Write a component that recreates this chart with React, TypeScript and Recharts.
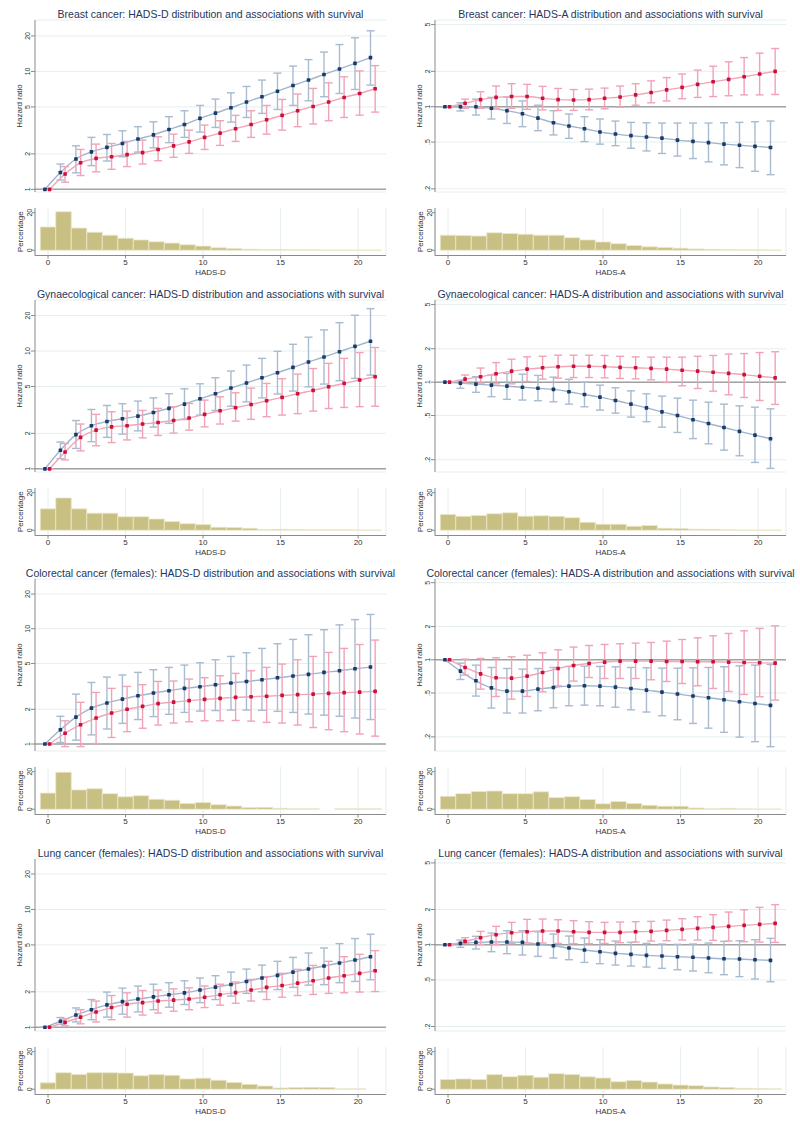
import React from 'react'
import {
  Bar,
  BarChart,
  CartesianGrid,
  ComposedChart,
  ErrorBar,
  Line,
  ReferenceLine,
  XAxis,
  YAxis,
} from 'recharts'

const FONT = '"Liberation Sans", Arial, Helvetica, sans-serif'

// HADS score categories
const scores = [0, 1, 2, 3, 4, 5, 6, 7, 8, 9, 10, 11, 12, 13, 14, 15, 16, 17, 18, 19, 20, 21]
const histTicks = [0, 5, 10, 15, 20]
const pctTicks = [0, 10, 20]
const hrTicksD = [1, 2, 5, 10, 20]
const hrTicksA = [0.2, 0.5, 1, 2, 5]

// Breast cancer, HADS-D
const breastDBlue = [1, 1.39, 1.81, 2.08, 2.27, 2.45, 2.67, 2.9, 3.22, 3.55, 4.0, 4.43, 4.92, 5.5, 6.1, 6.8, 7.6, 8.45, 9.43, 10.5, 11.7, 13.1]
const breastDBlueLo = [1, 1.2, 1.38, 1.59, 1.74, 1.89, 2.07, 2.25, 2.49, 2.76, 3.06, 3.35, 3.72, 4.07, 4.41, 4.76, 5.15, 5.64, 6.1, 6.5, 7.03, 7.66]
const breastDBlueHi = [1, 1.64, 2.34, 2.76, 2.92, 3.14, 3.4, 3.74, 4.13, 4.64, 5.15, 5.83, 6.59, 7.46, 8.45, 9.68, 11.1, 12.6, 14.6, 16.9, 19.3, 22.1]
const breastDRed = [1, 1.35, 1.68, 1.83, 1.89, 1.97, 2.05, 2.18, 2.34, 2.53, 2.76, 3.0, 3.27, 3.55, 3.89, 4.24, 4.64, 5.05, 5.5, 6.02, 6.5, 7.13]
const breastDRedLo = [1, 1.15, 1.31, 1.41, 1.48, 1.56, 1.64, 1.75, 1.87, 2.02, 2.18, 2.36, 2.55, 2.76, 2.94, 3.18, 3.4, 3.58, 3.82, 4.07, 4.26, 4.52]
const breastDRedHi = [1, 1.56, 2.18, 2.42, 2.45, 2.55, 2.62, 2.79, 2.94, 3.18, 3.51, 3.82, 4.24, 4.64, 5.15, 5.79, 6.43, 7.18, 8.0, 9.0, 10.1, 11.2]
const breastDPct = [12.4, 20.5, 11.8, 9.6, 8.0, 6.4, 5.5, 4.5, 3.8, 2.9, 2.2, 1.3, 0.9, 0.55, 0.4, 0.35, 0.25, 0.2, 0.15, 0.15, 0.1, 0.1]

// Breast cancer, HADS-A
const breastABlue = [1, 1.0, 1.0, 0.97, 0.925, 0.87, 0.8, 0.73, 0.685, 0.65, 0.61, 0.585, 0.567, 0.553, 0.54, 0.52, 0.507, 0.495, 0.48, 0.47, 0.46, 0.45]
const breastABlueLo = [1, 0.92, 0.85, 0.786, 0.72, 0.676, 0.625, 0.575, 0.538, 0.505, 0.48, 0.466, 0.443, 0.42, 0.4, 0.38, 0.362, 0.339, 0.32, 0.303, 0.282, 0.264]
const breastABlueHi = [1, 1.08, 1.16, 1.2, 1.21, 1.12, 1.03, 0.925, 0.866, 0.822, 0.786, 0.755, 0.736, 0.73, 0.726, 0.726, 0.726, 0.726, 0.73, 0.736, 0.745, 0.755]
const breastARed = [1, 1.07, 1.15, 1.2, 1.22, 1.22, 1.18, 1.15, 1.14, 1.15, 1.18, 1.21, 1.26, 1.32, 1.39, 1.46, 1.55, 1.63, 1.71, 1.8, 1.9, 2.0]
const breastARedLo = [1, 0.97, 0.97, 0.96, 0.97, 0.95, 0.94, 0.93, 0.93, 0.94, 0.96, 0.99, 1.03, 1.08, 1.12, 1.17, 1.2, 1.22, 1.24, 1.26, 1.26, 1.27]
const breastARedHi = [1, 1.16, 1.34, 1.5, 1.57, 1.55, 1.49, 1.43, 1.4, 1.41, 1.44, 1.5, 1.57, 1.66, 1.77, 1.9, 2.05, 2.21, 2.41, 2.62, 2.86, 3.13]
const breastAPct = [8.0, 7.8, 7.6, 9.3, 8.9, 8.5, 8.0, 8.0, 6.7, 5.5, 4.4, 3.5, 2.5, 1.8, 1.4, 1.1, 0.7, 0.5, 0.4, 0.25, 0.2, 0.15]

// Gynaecological cancer, HADS-D
const gynDBlue = [1, 1.44, 1.95, 2.32, 2.52, 2.66, 2.8, 3.01, 3.26, 3.54, 3.93, 4.34, 4.85, 5.35, 5.93, 6.54, 7.26, 8.07, 8.89, 9.87, 10.95, 12.1]
const gynDBlueLo = [1, 1.22, 1.49, 1.7, 1.85, 1.97, 2.1, 2.26, 2.43, 2.62, 2.86, 3.13, 3.4, 3.7, 4.0, 4.31, 4.57, 4.97, 5.24, 5.6, 5.86, 6.25]
const gynDBlueHi = [1, 1.69, 2.57, 3.19, 3.45, 3.57, 3.76, 4.0, 4.34, 4.78, 5.27, 5.93, 6.76, 7.6, 8.66, 9.94, 11.4, 13.1, 15.1, 17.4, 20.1, 22.9]
const gynDRed = [1, 1.39, 1.85, 2.13, 2.27, 2.32, 2.4, 2.47, 2.57, 2.7, 2.9, 3.11, 3.3, 3.52, 3.78, 4.04, 4.34, 4.63, 4.97, 5.31, 5.67, 6.05]
const gynDRedLo = [1, 1.19, 1.42, 1.57, 1.67, 1.76, 1.83, 1.92, 2.01, 2.13, 2.27, 2.4, 2.54, 2.63, 2.77, 2.86, 2.94, 3.09, 3.25, 3.32, 3.37, 3.4]
const gynDRedHi = [1, 1.64, 2.4, 2.9, 3.05, 3.09, 3.13, 3.26, 3.37, 3.59, 3.83, 4.09, 4.42, 4.84, 5.31, 5.81, 6.37, 7.1, 7.86, 8.66, 9.7, 10.7]
const gynDPct = [11.4, 17.2, 11.4, 9.1, 9.1, 7.2, 7.2, 6.0, 4.6, 3.5, 3.0, 1.6, 1.4, 1.05, 0.35, 0.5, 0.35, 0.2, 0.2, 0.2, 0.15, 0.15]

// Gynaecological cancer, HADS-A
const gynABlue = [1, 0.98, 0.96, 0.94, 0.92, 0.9, 0.88, 0.86, 0.82, 0.774, 0.733, 0.684, 0.634, 0.587, 0.54, 0.5, 0.458, 0.424, 0.39, 0.36, 0.333, 0.309]
const gynABlueLo = [1, 0.88, 0.81, 0.74, 0.7, 0.69, 0.68, 0.665, 0.634, 0.6, 0.56, 0.526, 0.484, 0.44, 0.393, 0.352, 0.31, 0.278, 0.244, 0.217, 0.189, 0.167]
const gynABlueHi = [1, 1.035, 1.12, 1.16, 1.2, 1.18, 1.15, 1.11, 1.06, 1.0, 0.94, 0.89, 0.835, 0.785, 0.748, 0.718, 0.688, 0.66, 0.634, 0.612, 0.595, 0.575]
const gynARed = [1, 1.064, 1.12, 1.19, 1.256, 1.31, 1.35, 1.375, 1.39, 1.39, 1.38, 1.36, 1.35, 1.33, 1.31, 1.28, 1.256, 1.23, 1.2, 1.17, 1.13, 1.094]
const gynARedLo = [1, 0.98, 0.98, 0.966, 0.966, 1.014, 1.064, 1.086, 1.1, 1.1, 1.094, 1.08, 1.07, 1.05, 0.993, 0.927, 0.877, 0.83, 0.77, 0.728, 0.684, 0.63]
const gynARedHi = [1, 1.16, 1.34, 1.5, 1.61, 1.69, 1.71, 1.75, 1.75, 1.75, 1.74, 1.71, 1.69, 1.68, 1.68, 1.68, 1.71, 1.74, 1.79, 1.81, 1.85, 1.88]
const gynAPct = [8.4, 7.4, 7.9, 8.8, 9.3, 7.5, 7.7, 7.4, 6.7, 4.2, 3.2, 3.2, 2.1, 2.5, 1.05, 0.9, 0.55, 0.5, 0.25, 0.15, 0.1, 0.1]

// Colorectal cancer (females), HADS-D
const colDBlue = [1, 1.33, 1.71, 2.05, 2.27, 2.45, 2.62, 2.77, 2.9, 3.04, 3.14, 3.27, 3.38, 3.49, 3.61, 3.76, 3.89, 4.02, 4.18, 4.32, 4.5, 4.65]
const colDBlueLo = [1, 1.03, 1.08, 1.2, 1.35, 1.51, 1.63, 1.73, 1.81, 1.88, 1.93, 1.95, 1.97, 1.97, 1.96, 1.92, 1.88, 1.82, 1.78, 1.74, 1.68, 1.63]
const colDBlueHi = [1, 1.74, 2.71, 3.42, 3.81, 3.97, 4.18, 4.41, 4.62, 4.84, 5.07, 5.38, 5.75, 6.19, 6.75, 7.41, 8.08, 8.87, 9.8, 10.8, 12.0, 13.3]
const colDRed = [1, 1.24, 1.47, 1.68, 1.86, 2.0, 2.12, 2.24, 2.31, 2.38, 2.44, 2.49, 2.54, 2.57, 2.6, 2.64, 2.68, 2.71, 2.75, 2.79, 2.82, 2.86]
const colDRedLo = [1, 0.95, 0.95, 1.01, 1.14, 1.28, 1.37, 1.46, 1.52, 1.56, 1.59, 1.59, 1.6, 1.58, 1.54, 1.52, 1.46, 1.39, 1.33, 1.28, 1.22, 1.17]
const colDRedHi = [1, 1.59, 2.3, 2.8, 3.04, 3.16, 3.27, 3.49, 3.52, 3.66, 3.76, 3.91, 4.1, 4.32, 4.62, 4.94, 5.38, 5.75, 6.23, 6.75, 7.3, 7.97]
const colDPct = [8.6, 19.7, 10.3, 10.9, 8.3, 6.6, 7.2, 5.3, 4.8, 3.1, 3.6, 2.4, 1.7, 0.9, 1.0, 0.5, 0.3, 0.3, 0, 0.3, 0.3, 0.3]

// Colorectal cancer (females), HADS-A
const colABlue = [1, 0.79, 0.645, 0.557, 0.52, 0.52, 0.542, 0.561, 0.577, 0.581, 0.577, 0.565, 0.55, 0.531, 0.509, 0.489, 0.469, 0.453, 0.434, 0.416, 0.402, 0.386]
const colABlueLo = [1, 0.663, 0.469, 0.365, 0.329, 0.329, 0.345, 0.367, 0.383, 0.388, 0.383, 0.372, 0.352, 0.336, 0.311, 0.286, 0.265, 0.24, 0.22, 0.199, 0.181, 0.163]
const colABlueHi = [1, 0.933, 0.895, 0.852, 0.834, 0.823, 0.834, 0.852, 0.87, 0.876, 0.87, 0.864, 0.852, 0.846, 0.84, 0.84, 0.846, 0.852, 0.864, 0.882, 0.895, 0.907]
const colARed = [1, 0.852, 0.746, 0.687, 0.682, 0.711, 0.768, 0.834, 0.889, 0.926, 0.952, 0.972, 0.972, 0.972, 0.966, 0.966, 0.959, 0.959, 0.952, 0.946, 0.939, 0.933]
const colARedLo = [1, 0.726, 0.542, 0.465, 0.44, 0.465, 0.513, 0.581, 0.641, 0.691, 0.677, 0.677, 0.677, 0.659, 0.636, 0.61, 0.581, 0.55, 0.516, 0.485, 0.462, 0.431]
const colARedHi = [1, 1.014, 1.028, 1.043, 1.065, 1.1, 1.157, 1.232, 1.304, 1.349, 1.377, 1.397, 1.416, 1.436, 1.476, 1.528, 1.582, 1.65, 1.733, 1.831, 1.924, 2.03]
const colAPct = [6.9, 8.3, 9.5, 9.7, 8.3, 8.3, 9.3, 6.2, 6.7, 5.2, 2.9, 4.1, 3.1, 2.1, 1.6, 1.6, 0.7, 0.2, 0.5, 0.2, 0.15, 0.15]

// Lung cancer (females), HADS-D
const lungDBlue = [1, 1.125, 1.27, 1.41, 1.55, 1.65, 1.74, 1.81, 1.89, 1.96, 2.07, 2.19, 2.31, 2.45, 2.62, 2.76, 2.94, 3.12, 3.31, 3.51, 3.72, 3.97]
const lungDBlueLo = [1, 1.06, 1.11, 1.16, 1.22, 1.29, 1.35, 1.41, 1.48, 1.56, 1.62, 1.72, 1.84, 1.94, 2.0, 2.09, 2.18, 2.28, 2.3, 2.39, 2.45, 2.53]
const lungDBlueHi = [1, 1.21, 1.46, 1.72, 1.99, 2.15, 2.24, 2.32, 2.39, 2.48, 2.62, 2.74, 2.94, 3.12, 3.37, 3.63, 3.92, 4.27, 4.71, 5.13, 5.66, 6.16]
const lungDRed = [1, 1.1, 1.22, 1.35, 1.47, 1.57, 1.62, 1.67, 1.7, 1.74, 1.8, 1.89, 1.97, 2.07, 2.18, 2.26, 2.37, 2.48, 2.62, 2.74, 2.87, 3.02]
const lungDRedLo = [1, 1.03, 1.07, 1.11, 1.16, 1.22, 1.27, 1.32, 1.37, 1.41, 1.47, 1.54, 1.6, 1.67, 1.72, 1.8, 1.86, 1.9, 1.94, 1.96, 1.99, 2.01]
const lungDRedHi = [1, 1.18, 1.41, 1.67, 1.86, 1.96, 2.05, 2.07, 2.12, 2.16, 2.24, 2.32, 2.42, 2.55, 2.69, 2.87, 3.1, 3.35, 3.63, 3.97, 4.16, 4.47]
const lungDPct = [3.4, 8.8, 7.9, 8.8, 8.8, 8.6, 7.2, 7.8, 7.4, 5.5, 5.9, 4.8, 3.6, 2.6, 1.7, 0.7, 0.9, 1.0, 0.9, 0.2, 0.2, 0]

// Lung cancer (females), HADS-A
const lungABlue = [1, 1.026, 1.047, 1.054, 1.054, 1.047, 1.013, 0.98, 0.936, 0.9, 0.871, 0.843, 0.827, 0.811, 0.8, 0.79, 0.78, 0.769, 0.759, 0.754, 0.744, 0.735]
const lungABlueLo = [1, 0.949, 0.918, 0.871, 0.838, 0.816, 0.795, 0.769, 0.744, 0.706, 0.688, 0.67, 0.657, 0.644, 0.628, 0.611, 0.596, 0.576, 0.554, 0.533, 0.509, 0.483]
const lungABlueHi = [1, 1.096, 1.18, 1.258, 1.317, 1.317, 1.29, 1.233, 1.186, 1.14, 1.103, 1.075, 1.047, 1.026, 1.013, 1.007, 1.013, 1.033, 1.068, 1.082, 1.103, 1.133]
const lungARed = [1, 1.068, 1.148, 1.218, 1.266, 1.291, 1.308, 1.308, 1.291, 1.274, 1.274, 1.274, 1.291, 1.3, 1.326, 1.352, 1.379, 1.406, 1.434, 1.463, 1.492, 1.521]
const lungARedLo = [1, 1.026, 1.007, 1.007, 1.02, 1.033, 1.033, 1.026, 1.02, 1.02, 1.026, 1.04, 1.054, 1.075, 1.082, 1.096, 1.096, 1.089, 1.075, 1.061, 1.054, 1.047]
const lungARedHi = [1, 1.148, 1.3, 1.434, 1.552, 1.646, 1.658, 1.634, 1.604, 1.572, 1.552, 1.562, 1.572, 1.583, 1.624, 1.668, 1.735, 1.805, 1.9, 1.99, 2.085, 2.2]
const lungAPct = [5.2, 5.5, 5.2, 7.8, 6.7, 7.4, 6.4, 8.3, 7.9, 6.6, 6.0, 4.0, 4.7, 3.8, 2.8, 2.2, 1.9, 1.2, 0.9, 0.5, 0.35, 0.2]

const X_DOMAIN: [number, number] = [-0.84, 21.8]
const NAVY = '#1a3a6a'
const CRIMSON = '#c8123c'

function makeSeries(est: number[], lo: number[], hi: number[], shift: number) {
  return scores.map((s, i) => ({
    x: s + shift,
    y: est[i],
    err: [est[i] - lo[i], hi[i] - est[i]],
  }))
}

const squareDot = (color: string) => (props: any) => {
  const { cx, cy, index } = props
  if (cx == null || cy == null) return <g key={index} />
  return <rect key={index} x={cx - 1.8} y={cy - 1.8} width={3.6} height={3.6} rx={0.6} fill={color} />
}

const fmtHr = (v: number) => (v < 1 ? String(v).replace('0.', '.') : String(v))

function RotTick(props: any) {
  const { x, y, payload, fmt, size } = props
  return (
    <text
      x={x}
      y={y}
      transform={`rotate(-90 ${x} ${y})`}
      textAnchor="middle"
      fontSize={size}
      fill="#333"
      fontFamily={FONT}
    >
      {fmt(payload.value)}
    </text>
  )
}

type PanelProps = {
  left: number
  top: number
  title: string
  xLabel: string
  blue: [number[], number[], number[]]
  red: [number[], number[], number[]]
  pct: number[]
  yDomain: [number, number]
  yTicks: number[]
}

function Panel({ left, top, title, xLabel, blue, red, pct, yDomain, yTicks }: PanelProps) {
  const blueData = makeSeries(blue[0], blue[1], blue[2], -0.2)
  const redData = makeSeries(red[0], red[1], red[2], 0.1)
  const histData = scores.map((s, i) => ({ x: s, p: pct[i] }))

  return (
    <div style={{ position: 'absolute', left, top, width: 400, height: 280 }}>
      <div
        style={{
          position: 'absolute',
          left: 5,
          width: 411,
          top: 7,
          textAlign: 'center',
          fontSize: 10.5,
          lineHeight: '14px',
          color: '#24365a',
          fontFamily: FONT,
          whiteSpace: 'nowrap',
        }}
      >
        {title}
      </div>
      <div style={{ position: 'absolute', left: 0, top: 0 }}>
        <ComposedChart width={400} height={200} margin={{ top: 20, right: 14, bottom: 8, left: 5 }}>
          <CartesianGrid vertical={false} stroke="#e6eef0" />
          <XAxis type="number" dataKey="x" domain={X_DOMAIN} allowDataOverflow hide />
          <YAxis
            type="number"
            scale="log"
            domain={yDomain}
            ticks={yTicks}
            allowDataOverflow
            width={30}
            tickSize={4}
            tickMargin={1}
            axisLine={{ stroke: '#8a8a8a' }}
            tickLine={{ stroke: '#8a8a8a' }}
            tick={(p: any) => <RotTick {...p} fmt={fmtHr} size={7} />}
            label={{
              value: 'Hazard ratio',
              angle: -90,
              position: 'insideLeft',
              offset: 14,
              fontSize: 8,
              fill: '#333',
              style: { textAnchor: 'middle', fontFamily: FONT },
            }}
          />
          <ReferenceLine y={1} stroke="#a2a2a2" strokeWidth={1.5} />
          <Line
            data={blueData}
            dataKey="y"
            type="monotone"
            stroke="#9fb5cb"
            strokeWidth={1.4}
            dot={squareDot(NAVY)}
            isAnimationActive={false}
          >
            <ErrorBar dataKey="err" direction="y" width={4} stroke="#a8bbcf" strokeWidth={1.4} />
          </Line>
          <Line
            data={redData}
            dataKey="y"
            type="monotone"
            stroke="#f2a5b6"
            strokeWidth={1.4}
            dot={squareDot(CRIMSON)}
            isAnimationActive={false}
          >
            <ErrorBar dataKey="err" direction="y" width={4} stroke="#f0a3b7" strokeWidth={1.4} />
          </Line>
        </ComposedChart>
      </div>
      <div style={{ position: 'absolute', left: 0, top: 200 }}>
        <BarChart
          width={400}
          height={80}
          data={histData}
          margin={{ top: 8, right: 14, bottom: 0, left: 5 }}
          barCategoryGap={0}
        >
          <CartesianGrid horizontal={false} stroke="#e6eef0" />
          <XAxis
            type="number"
            dataKey="x"
            domain={X_DOMAIN}
            ticks={histTicks}
            allowDataOverflow
            height={24.5}
            tickSize={3}
            tickMargin={1}
            axisLine={{ stroke: '#8a8a8a' }}
            tickLine={{ stroke: '#8a8a8a' }}
            tick={{ fontSize: 8, fill: '#333', fontFamily: FONT }}
            label={{
              value: xLabel,
              position: 'insideBottom',
              offset: 5,
              fontSize: 8,
              fill: '#333',
              style: { fontFamily: FONT },
            }}
          />
          <YAxis
            type="number"
            domain={[-2.8, 22.5]}
            ticks={pctTicks}
            allowDataOverflow
            width={30}
            tickSize={3}
            tickMargin={0}
            axisLine={{ stroke: '#8a8a8a' }}
            tickLine={{ stroke: '#8a8a8a' }}
            tick={(p: any) => <RotTick {...p} fmt={String} size={7} />}
            label={{
              value: 'Percentage',
              angle: -90,
              position: 'insideLeft',
              offset: 15,
              fontSize: 8,
              fill: '#333',
              style: { textAnchor: 'middle', fontFamily: FONT },
            }}
          />
          <Bar
            dataKey="p"
            fill="#c8bf82"
            stroke="#ece8cc"
            strokeWidth={0.8}
            barSize={15.5}
            isAnimationActive={false}
          />
        </BarChart>
      </div>
    </div>
  )
}

export default function App() {
  return (
    <div
      style={{
        position: 'absolute',
        left: 0,
        top: 0,
        width: 800,
        height: 1127,
        background: '#fff',
        overflow: 'hidden',
      }}
    >
      <Panel
        left={0}
        top={0}
        title="Breast cancer: HADS-D distribution and associations with survival"
        xLabel="HADS-D"
        blue={[breastDBlue, breastDBlueLo, breastDBlueHi]}
        red={[breastDRed, breastDRedLo, breastDRedHi]}
        pct={breastDPct}
        yDomain={[0.95, 27.3]}
        yTicks={hrTicksD}
      />
      <Panel
        left={400}
        top={0}
        title="Breast cancer: HADS-A distribution and associations with survival"
        xLabel="HADS-A"
        blue={[breastABlue, breastABlueLo, breastABlueHi]}
        red={[breastARed, breastARedLo, breastARedHi]}
        pct={breastAPct}
        yDomain={[0.188, 5.47]}
        yTicks={hrTicksA}
      />
      <Panel
        left={0}
        top={280}
        title="Gynaecological cancer: HADS-D distribution and associations with survival"
        xLabel="HADS-D"
        blue={[gynDBlue, gynDBlueLo, gynDBlueHi]}
        red={[gynDRed, gynDRedLo, gynDRedHi]}
        pct={gynDPct}
        yDomain={[0.94, 27.1]}
        yTicks={hrTicksD}
      />
      <Panel
        left={400}
        top={280}
        title="Gynaecological cancer: HADS-A distribution and associations with survival"
        xLabel="HADS-A"
        blue={[gynABlue, gynABlueLo, gynABlueHi]}
        red={[gynARed, gynARedLo, gynARedHi]}
        pct={gynAPct}
        yDomain={[0.155, 5.5]}
        yTicks={hrTicksA}
      />
      <Panel
        left={0}
        top={559}
        title="Colorectal cancer (females): HADS-D distribution and associations with survival"
        xLabel="HADS-D"
        blue={[colDBlue, colDBlueLo, colDBlueHi]}
        red={[colDRed, colDRedLo, colDRedHi]}
        pct={colDPct}
        yDomain={[0.87, 27]}
        yTicks={hrTicksD}
      />
      <Panel
        left={400}
        top={559}
        title="Colorectal cancer (females): HADS-A distribution and associations with survival"
        xLabel="HADS-A"
        blue={[colABlue, colABlueLo, colABlueHi]}
        red={[colARed, colARedLo, colARedHi]}
        pct={colAPct}
        yDomain={[0.149, 5.4]}
        yTicks={hrTicksA}
      />
      <Panel
        left={0}
        top={839}
        title="Lung cancer (females): HADS-D distribution and associations with survival"
        xLabel="HADS-D"
        blue={[lungDBlue, lungDBlueLo, lungDBlueHi]}
        red={[lungDRed, lungDRedLo, lungDRedHi]}
        pct={lungDPct}
        yDomain={[0.93, 26.8]}
        yTicks={hrTicksD}
      />
      <Panel
        left={400}
        top={839}
        title="Lung cancer (females): HADS-A distribution and associations with survival"
        xLabel="HADS-A"
        blue={[lungABlue, lungABlueLo, lungABlueHi]}
        red={[lungARed, lungARedLo, lungARedHi]}
        pct={lungAPct}
        yDomain={[0.183, 5.4]}
        yTicks={hrTicksA}
      />
    </div>
  )
}
